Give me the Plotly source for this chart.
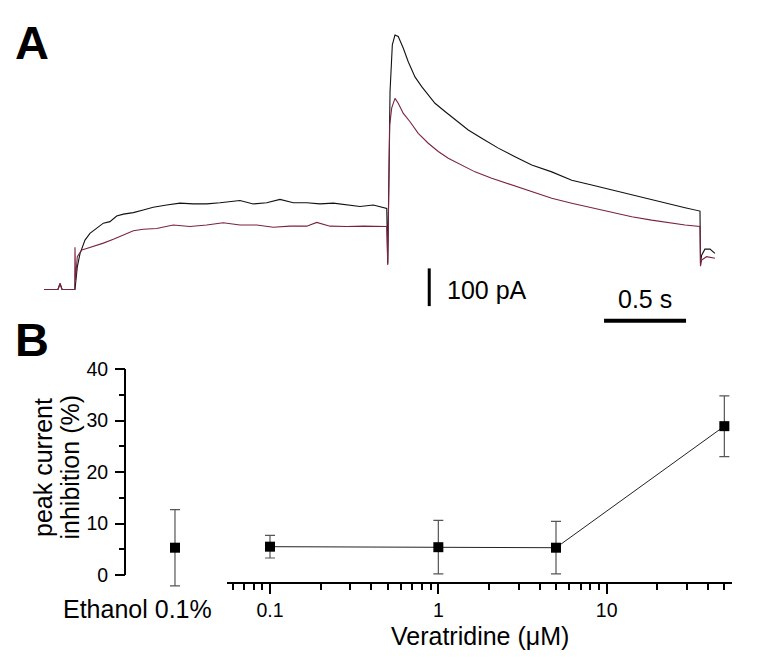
import plotly.graph_objects as go

# page body has an 8px default margin: the figure is drawn 8px in from the window edge
OFF = 8
W, H = 772 - 2 * OFF, 662 - 2 * OFF
FONT = "Arial, Liberation Sans, sans-serif"

# ---------------- Panel A: current traces (time in ms, current in pA) ----------------
t_black = [0, 85, 98, 110, 189, 203, 220, 250, 280, 321, 362, 402, 443, 484, 545, 605, 666,
           748, 829, 910, 992, 1073, 1134, 1195, 1276, 1358, 1439, 1520, 1602, 1683, 1764,
           1846, 1927, 2008, 2090, 2096, 2110, 2124, 2140, 2160, 2191, 2221, 2262, 2303,
           2343, 2384, 2445, 2506, 2587, 2669, 2770, 2872, 2974, 3096, 3218, 3340, 3462,
           3584, 3705, 3827, 3909, 4000, 4003, 4010, 4030, 4061, 4091]
i_black = [0, 0, 16, 0, 0, 60, 96, 131, 149, 162, 176, 180, 195, 200, 204, 211, 218,
           224, 229, 227, 227, 230, 233, 236, 227, 230, 239, 230, 230, 227, 229,
           224, 220, 224, 215, 69, 525, 649, 675, 671, 640, 604, 564, 538,
           516, 494, 472, 450, 423, 401, 375, 352, 330, 312, 290, 277, 264,
           251, 237, 224, 217, 208, 69, 91, 107, 107, 96]

t_red = [0, 85, 98, 110, 187, 189, 192, 203, 230, 260, 301, 362, 423, 484, 545, 605, 687,
         788, 890, 992, 1093, 1195, 1297, 1398, 1500, 1602, 1663, 1744, 1846, 1947, 2090,
         2096, 2108, 2120, 2140, 2160, 2191, 2232, 2282, 2343, 2404, 2465, 2547, 2628,
         2730, 2852, 2974, 3096, 3218, 3340, 3462, 3584, 3705, 3827, 3909, 4000, 4003,
         4010, 4040, 4091]
i_red = [0, 0, 16, 0, 0, 112, 25, 87, 105, 109, 114, 123, 133, 145, 156, 160, 162,
         171, 167, 171, 177, 171, 171, 165, 168, 168, 178, 168, 167, 168, 167,
         65, 436, 481, 507, 494, 467, 445, 414, 388, 366, 348, 330, 312,
         295, 277, 259, 242, 229, 217, 205, 193, 184, 176, 171, 167, 62,
         78, 87, 83]

bar_current_pA = 100   # vertical scale bar
bar_time_ms = 500      # horizontal scale bar

# ---------------- Panel B: concentration-response ----------------
conc_uM = [0.1, 1, 5, 50]
inhib = [5.5, 5.4, 5.3, 28.9]
inhib_err = [2.2, 5.2, 5.1, 5.9]

ethanol_label = ["Ethanol 0.1%"]
ethanol_inhib = [5.3]
ethanol_err = [7.4]

y_ticks = [0, 10, 20, 30, 40]
y_minor = [5, 15, 25, 35]
x_ticks = [0.1, 1, 10]
x_ticklabels = ["0.1", "1", "10"]
x_minor = [0.06, 0.07, 0.08, 0.09, 0.2, 0.3, 0.4, 0.5, 0.6, 0.7, 0.8, 0.9,
           2, 3, 4, 5, 6, 7, 8, 9, 20, 30, 40, 50]


def pxx(x):
    return (x - OFF) / W


def pyy(y):
    return 1 - (y - OFF) / H


fig = go.Figure()

# Panel A traces
fig.add_trace(go.Scatter(x=t_black, y=i_black, mode="lines", xaxis="x3", yaxis="y3",
                         line=dict(color="#111111", width=1.1), showlegend=False))
fig.add_trace(go.Scatter(x=t_red, y=i_red, mode="lines", xaxis="x3", yaxis="y3",
                         line=dict(color="#7a2343", width=1.1), showlegend=False))

# scale bars (anchored at chosen layout positions)
vb_t, vb_i0 = 2349, -44
hb_t0, hb_i = 3415, -83
fig.add_trace(go.Scatter(x=[vb_t, vb_t], y=[vb_i0, vb_i0 + bar_current_pA], mode="lines",
                         xaxis="x3", yaxis="y3", line=dict(color="black", width=3),
                         showlegend=False))
fig.add_trace(go.Scatter(x=[hb_t0, hb_t0 + bar_time_ms], y=[hb_i, hb_i], mode="lines",
                         xaxis="x3", yaxis="y3", line=dict(color="black", width=4),
                         showlegend=False))

# Panel B traces
fig.add_trace(go.Scatter(
    x=conc_uM, y=inhib, mode="lines+markers", xaxis="x", yaxis="y",
    line=dict(color="#222222", width=1),
    marker=dict(symbol="square", size=10, color="black"),
    error_y=dict(type="data", array=inhib_err, visible=True, color="#555555",
                 thickness=1.2, width=5),
    showlegend=False))
fig.add_trace(go.Scatter(
    x=ethanol_label, y=ethanol_inhib, mode="markers", xaxis="x2", yaxis="y",
    marker=dict(symbol="square", size=10, color="black"),
    error_y=dict(type="data", array=ethanol_err, visible=True, color="#555555",
                 thickness=1.2, width=5),
    showlegend=False))

# axis geometry (window pixel positions)
yb_top_px, yb_bot_px = 369, 590
y_lo = -(yb_bot_px - 575) / 5.15
x_axis_px = 583
TICKFONT = dict(size=19.5, family=FONT)

fig.update_layout(
    width=W, height=H,
    margin=dict(l=0, r=0, t=0, b=0, autoexpand=False),
    paper_bgcolor="white", plot_bgcolor="rgba(0,0,0,0)",
    font=dict(family=FONT, color="black"),
    # Panel A axes (hidden)
    xaxis3=dict(domain=[pxx(40), pxx(720)], range=[-24.4, 4122], visible=False,
                anchor="y3"),
    yaxis3=dict(domain=[pyy(330), pyy(20)], range=[-107.4, 714.8], visible=False,
                anchor="x3"),
    # Panel B log axis
    xaxis=dict(type="log", domain=[pxx(227), pxx(732)], range=[-1.2555, 1.7445],
               anchor="free", position=pyy(x_axis_px),
               showline=True, linecolor="black", linewidth=2, showgrid=False,
               zeroline=False, ticks="outside", ticklen=10, tickwidth=2,
               tickcolor="black", tickmode="array", tickvals=x_ticks,
               ticktext=x_ticklabels, tickfont=TICKFONT,
               minor=dict(tickmode="array", tickvals=x_minor, ticks="outside",
                          ticklen=6, tickwidth=2, tickcolor="black", showgrid=False)),
    xaxis2=dict(type="category", domain=[pxx(125), pxx(227)], range=[-0.49, 0.51],
                visible=False, anchor="y"),
    yaxis=dict(domain=[pyy(yb_bot_px), pyy(yb_top_px)], range=[y_lo, 40],
               anchor="free", position=pxx(125), showline=False, showgrid=False,
               zeroline=False, ticks="outside", ticklen=10, tickwidth=2,
               tickcolor="black", tickmode="array", tickvals=y_ticks,
               tickfont=TICKFONT, ticklabelstandoff=3,
               minor=dict(tickmode="array", tickvals=y_minor, ticks="outside",
                          ticklen=6, tickwidth=2, tickcolor="black", showgrid=False)),
    shapes=[dict(type="line", xref="paper", yref="y", x0=pxx(125), x1=pxx(125),
                 y0=y_ticks[0], y1=y_ticks[-1], line=dict(color="black", width=2))],
    annotations=[
        dict(text="<b>A</b>", x=pxx(32), y=pyy(42.5), xref="paper", yref="paper",
             showarrow=False, font=dict(size=47, family=FONT), xanchor="center",
             yanchor="middle"),
        dict(text="<b>B</b>", x=pxx(32), y=pyy(339), xref="paper", yref="paper",
             showarrow=False, font=dict(size=47, family=FONT), xanchor="center",
             yanchor="middle"),
        dict(text="100 pA", x=pxx(445), y=pyy(290), xref="paper", yref="paper",
             showarrow=False, font=dict(size=25, family=FONT), xanchor="left",
             yanchor="middle"),
        dict(text="0.5 s", x=pxx(645), y=pyy(299), xref="paper", yref="paper",
             showarrow=False, font=dict(size=25, family=FONT), xanchor="center",
             yanchor="middle"),
        dict(text="peak current", x=pxx(42.5), y=pyy(467.5), xref="paper",
             yref="paper", showarrow=False, textangle=-90,
             font=dict(size=25, family=FONT), xanchor="center", yanchor="middle"),
        dict(text="inhibition (%)", x=pxx(69), y=pyy(467.5), xref="paper",
             yref="paper", showarrow=False, textangle=-90,
             font=dict(size=25, family=FONT), xanchor="center", yanchor="middle"),
        dict(text="Ethanol 0.1%", x=pxx(137.5), y=pyy(609), xref="paper",
             yref="paper", showarrow=False, font=dict(size=25, family=FONT),
             xanchor="center", yanchor="middle"),
        dict(text="Veratridine (μM)", x=pxx(479.5), y=pyy(636), xref="paper",
             yref="paper", showarrow=False, font=dict(size=25, family=FONT),
             xanchor="center", yanchor="middle"),
    ],
)

fig.write_html("out.html")
